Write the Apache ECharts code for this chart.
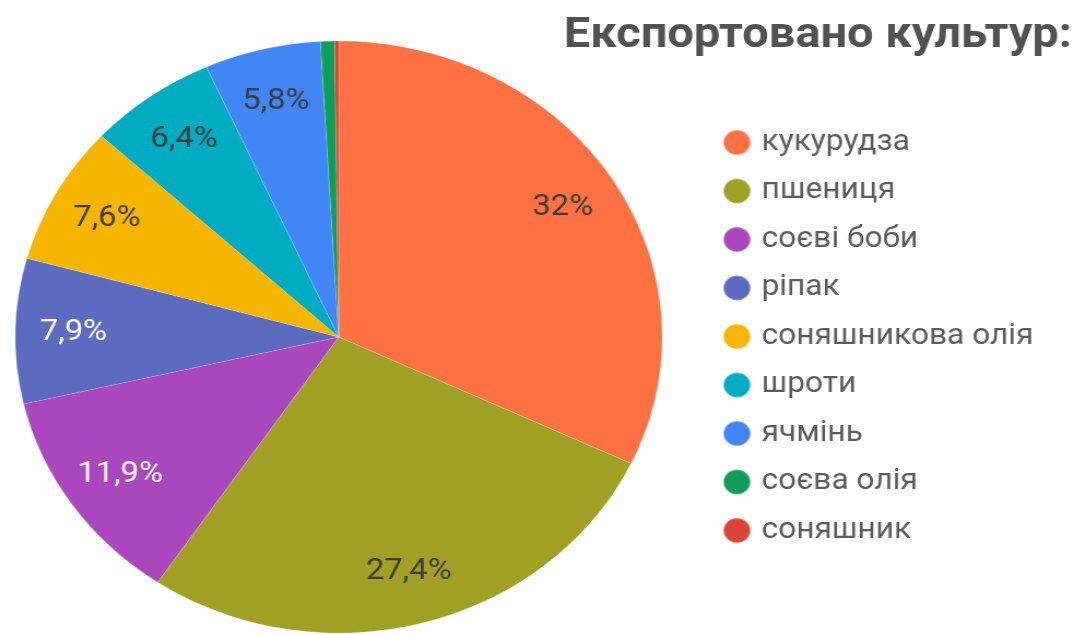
<!DOCTYPE html>
<html>
<head>
<meta charset="utf-8">
<script src="https://cdn.jsdelivr.net/npm/echarts@6/dist/echarts.min.js"></script>
<style>
  html, body { margin: 0; padding: 0; background: #fff; overflow: hidden; }
  #wrap { width: 1074px; height: 635px; overflow: hidden; }
  /* the chart is drawn slightly narrower and widened horizontally */
  #chart { width: 983px; height: 635px; transform: scaleX(1.0926); transform-origin: 0 0; }
</style>
</head>
<body>
<div id="wrap"><div id="chart"></div></div>
<script>
const titleText = 'Експортовано культур:';
const categories = ['кукурудза', 'пшениця', 'соєві боби', 'ріпак', 'соняшникова олія', 'шроти', 'ячмінь', 'соєва олія', 'соняшник'];
const shares = [32, 27.4, 11.9, 7.9, 7.6, 6.4, 5.8, 0.7, 0.2];
const colors = ['#ff7043', '#a0a124', '#ab47bc', '#5c6bc0', '#f6b600', '#00acc1', '#4285f4', '#0f9d58', '#db4437'];
const labelColors = ['#3d3d3d', '#3d3d3d', '#ffffff', '#ffffff', '#3d3d3d', '#3d3d3d', '#3d3d3d', '#3d3d3d', '#3d3d3d'];

const center = [310, 337];
const R = 296;

const sliceData = categories.map((name, i) => ({
  name,
  value: shares[i],
  itemStyle: { color: colors[i] }
}));

const labelData = categories.map((name, i) => ({
  name,
  value: shares[i],
  label: { color: labelColors[i] }
}));

const chart = echarts.init(document.getElementById('chart'), null, { renderer: 'canvas' });
chart.setOption({
  animation: false,
  backgroundColor: '#ffffff',
  title: {
    text: titleText,
    left: 516,
    top: 15,
    padding: 0,
    textStyle: { fontFamily: 'Roboto', fontWeight: 'bold', fontSize: 43, color: '#525252' }
  },
  legend: {
    orient: 'vertical',
    left: 656,
    top: 123,
    icon: 'circle',
    itemWidth: 27,
    itemHeight: 25,
    itemGap: 19.5,
    data: categories,
    selectedMode: false,
    textStyle: {
      fontFamily: 'Roboto',
      fontSize: 29,
      color: '#5c5c5c',
      padding: [0, 0, 0, 4]
    }
  },
  series: [
    {
      name: 'slices',
      type: 'pie',
      center: center,
      radius: [0, R],
      startAngle: 90,
      clockwise: true,
      avoidLabelOverlap: false,
      label: { show: false },
      labelLine: { show: false },
      itemStyle: { borderColor: 'rgba(255,255,255,0.35)', borderWidth: 0.5 },
      emphasis: { disabled: true },
      data: sliceData
    },
    {
      // transparent ring that carries the percentage labels
      name: 'labels',
      type: 'pie',
      center: center,
      radius: [R * 0.62, R],
      startAngle: 90,
      clockwise: true,
      silent: true,
      avoidLabelOverlap: false,
      itemStyle: { color: 'rgba(0,0,0,0)' },
      labelLine: { show: false },
      label: {
        show: true,
        position: 'inside',
        fontFamily: 'Roboto',
        fontSize: 30,
        formatter: p => p.value < 1 ? '' : String(p.value).replace('.', ',') + '%'
      },
      emphasis: { disabled: true },
      data: labelData
    }
  ]
});
</script>
</body>
</html>
